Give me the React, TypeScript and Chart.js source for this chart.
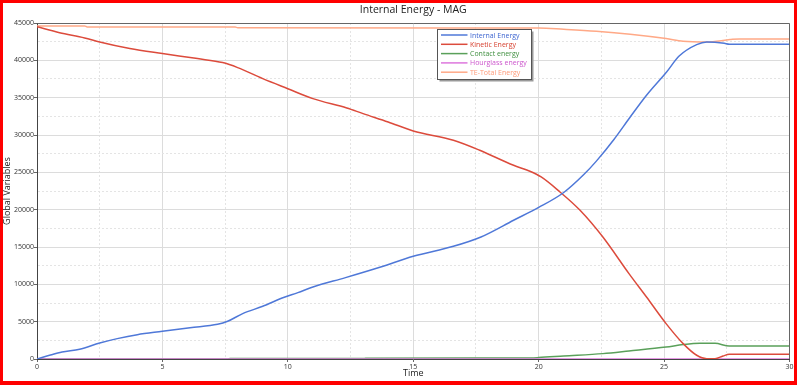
import React, { useEffect, useRef } from 'react';
import { Chart, registerables } from 'chart.js';

Chart.register(...registerables);

const chartTitle = 'Internal Energy - MAG';
const xTitle = 'Time';
const yTitle = 'Global Variables';

const seriesNames = ['Internal Energy', 'Kinetic Energy', 'Contact energy', 'Hourglass energy', 'TE-Total Energy'];
const seriesColors = ['#4f78d8', '#dc4b3c', '#5aa05a', '#dd77dd', '#ffa987'];
const legendTextColors = ['#3f66d0', '#d6402f', '#3f8f3f', '#cc55cc', '#ff9a78'];
const seriesOrder = [1, 2, 4, 3, 5];

const internalT = [0, 0.5, 1, 1.7, 2.5, 3.2, 4, 5, 6.1, 7.2, 7.6, 8.2, 9, 9.8, 10.4, 11, 12.3, 13.7, 15, 16.6, 17.7, 19, 20, 21, 21.8, 22.3, 23, 23.65, 24.3, 25.1, 25.6, 26.3, 26.7, 27.4, 27.6, 30];
const internalV = [0, 500, 940, 1300, 2140, 2730, 3260, 3710, 4200, 4650, 5050, 6080, 7060, 8200, 8890, 9640, 10900, 12320, 13750, 15090, 16340, 18580, 20300, 22300, 24700, 26500, 29400, 32410, 35320, 38440, 40580, 42110, 42460, 42280, 42150, 42150];

const kineticT = [0, 0.9, 1.9, 2.5, 3.7, 5, 6.4, 7.4, 8, 9, 10, 11, 12.35, 13, 14, 15, 16.6, 17.65, 19, 19.65, 20.1, 20.85, 21.65, 22.56, 23.6, 24.3, 25.08, 25.76, 26.3, 26.7, 27.03, 27.35, 27.6, 30];
const kineticV = [44500, 43700, 43000, 42450, 41570, 40900, 40230, 39700, 39030, 37550, 36200, 34870, 33620, 32860, 31740, 30540, 29290, 27950, 25940, 25150, 24380, 22370, 19920, 16340, 11440, 8300, 4740, 2060, 500, 50, 50, 400, 630, 630];

const contactT = [0, 7.6, 7.7, 13, 13.1, 19.5, 20, 21, 22.56, 23.6, 25.08, 25.76, 26.43, 27.03, 27.6, 30];
const contactV = [0, 0, 60, 60, 100, 130, 190, 400, 720, 1070, 1600, 1930, 2100, 2100, 1740, 1740];

const hourglassT = [0, 30];
const hourglassV = [0, 0];

const totalT = [0, 1.9, 2, 7.9, 8, 20, 21, 22.3, 23.65, 25.08, 25.76, 26.7, 27.63, 28, 30];
const totalV = [44600, 44600, 44480, 44450, 44380, 44330, 44160, 43890, 43490, 42910, 42550, 42460, 42780, 42870, 42870];

const seriesT = [internalT, kineticT, contactT, hourglassT, totalT];
const seriesV = [internalV, kineticV, contactV, hourglassV, totalV];

const xMin = 0, xMax = 30, xStep = 2.5, xMajor = 5;
const yMin = 0, yMax = 45000, yStep = 2500, yMajor = 5000;

const FONT = "'Open Sans', 'DejaVu Sans', sans-serif";

const isMajor = (v: number, m: number) => Math.abs(v / m - Math.round(v / m)) < 1e-6;

const decorPlugin = {
  id: 'decor',
  afterDatasetsDraw(chart: any) {
    const { ctx, chartArea } = chart;
    const l = Math.round(chartArea.left) + 0.5;
    const t = Math.round(chartArea.top) + 0.5;
    const r = Math.round(chartArea.right) - 0.5;
    const b = Math.round(chartArea.bottom);
    ctx.save();
    ctx.strokeStyle = '#666';
    ctx.lineWidth = 1;
    ctx.beginPath();
    ctx.moveTo(l, t);
    ctx.lineTo(r, t);
    ctx.lineTo(r, b);
    ctx.stroke();
    ctx.restore();
  },
  afterDraw(chart: any) {
    const { ctx, chartArea } = chart;
    ctx.save();
    ctx.fillStyle = '#222';
    ctx.font = `10.5px ${FONT}`;
    ctx.textAlign = 'center';
    ctx.textBaseline = 'middle';
    ctx.fillText(chartTitle, (chartArea.left + chartArea.right) / 2, 10);

    const bx = 437.5, by = 29.5, bw = 94, bh = 50;
    ctx.fillStyle = '#999';
    ctx.fillRect(bx + 2, by + 2, bw, bh);
    ctx.fillStyle = '#fff';
    ctx.fillRect(bx, by, bw, bh);
    ctx.strokeStyle = '#555';
    ctx.lineWidth = 1;
    ctx.strokeRect(bx, by, bw, bh);
    ctx.font = `7px ${FONT}`;
    ctx.textAlign = 'left';
    chart.data.datasets.forEach((ds: any, i: number) => {
      const y = 35 + i * 9.3;
      ctx.strokeStyle = ds.borderColor;
      ctx.lineWidth = 1.5;
      ctx.beginPath();
      ctx.moveTo(441, y);
      ctx.lineTo(467.5, y);
      ctx.stroke();
      ctx.fillStyle = legendTextColors[i];
      ctx.fillText(ds.label, 470, y + 0.5);
    });
    ctx.restore();
  },
};

export default function App() {
  const ref = useRef<HTMLCanvasElement | null>(null);
  useEffect(() => {
    if (!ref.current) return;
    const datasets = seriesNames.map((name, i) => ({
      label: name,
      data: seriesT[i].map((t, j) => ({ x: t, y: seriesV[i][j] })),
      borderColor: seriesColors[i],
      backgroundColor: seriesColors[i],
      borderWidth: 1.5,
      pointRadius: 0,
      cubicInterpolationMode: 'monotone',
      fill: false,
      order: seriesOrder[i],
    }));
    const chart = new Chart(ref.current, {
      type: 'line',
      data: { datasets },
      plugins: [decorPlugin],
      options: {
        animation: false,
        responsive: false,
        maintainAspectRatio: false,
        layout: { padding: { top: 23, right: 10.5, left: 0, bottom: 0 } },
        plugins: {
          legend: { display: false },
          title: { display: false },
          tooltip: { enabled: false },
        },
        scales: {
          x: {
            type: 'linear',
            min: xMin,
            max: xMax,
            afterFit: (s: any) => { s.height = 26; },
            ticks: {
              stepSize: xStep,
              autoSkip: false,
              maxRotation: 0,
              padding: 1,
              color: '#333',
              font: { family: FONT, size: 7 },
              callback: (v: any) => (isMajor(Number(v), xMajor) ? String(v) : ''),
            },
            grid: {
              color: (c: any) => (c.tick && isMajor(c.tick.value, xMajor) ? '#dcdcdc' : '#e4e4e4'),
              tickColor: (c: any) => (c.tick && isMajor(c.tick.value, xMajor) ? '#666' : 'rgba(0,0,0,0)'),
              tickLength: 3,
              lineWidth: 1,
            },
            border: {
              color: '#444',
              width: 1,
              dash: (c: any) => (c.tick && !isMajor(c.tick.value, xMajor) ? [2, 2] : []),
            },
            title: {
              display: true,
              text: xTitle,
              color: '#222',
              font: { family: FONT, size: 9 },
              padding: { top: 0, bottom: 6 },
            },
          },
          y: {
            type: 'linear',
            min: yMin,
            max: yMax,
            afterFit: (s: any) => { s.width = 37; },
            ticks: {
              stepSize: yStep,
              autoSkip: false,
              padding: 0,
              color: '#333',
              font: { family: FONT, size: 7 },
              callback: (v: any) => (isMajor(Number(v), yMajor) ? String(v) : ''),
            },
            grid: {
              color: (c: any) => (c.tick && isMajor(c.tick.value, yMajor) ? '#dcdcdc' : '#e4e4e4'),
              tickColor: (c: any) => (c.tick && isMajor(c.tick.value, yMajor) ? '#666' : 'rgba(0,0,0,0)'),
              tickLength: 3,
              lineWidth: 1,
            },
            border: {
              color: '#444',
              width: 1,
              dash: (c: any) => (c.tick && !isMajor(c.tick.value, yMajor) ? [2, 2] : []),
            },
            title: {
              display: true,
              text: yTitle,
              color: '#222',
              font: { family: FONT, size: 9 },
              padding: { top: 2, bottom: 0 },
            },
          },
        },
      } as any,
    });
    return () => chart.destroy();
  }, []);

  return (
    <div style={{ position: 'fixed', left: 0, top: 0, width: 800, height: 385, background: '#fff' }}>
      <canvas ref={ref} width={800} height={385} style={{ display: 'block', width: 800, height: 385 }} />
      <div
        style={{
          position: 'absolute',
          left: 0,
          top: 0,
          width: 797,
          height: 385,
          boxSizing: 'border-box',
          border: '3px solid #ff0000',
          borderBottomWidth: 4,
          pointerEvents: 'none',
        }}
      />
    </div>
  );
}
